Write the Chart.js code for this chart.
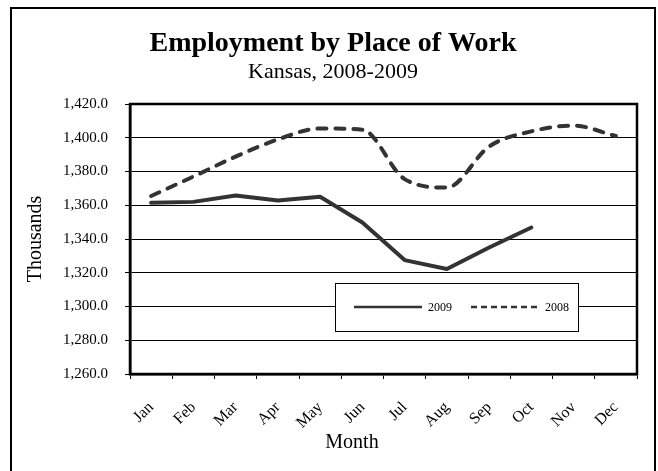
<!DOCTYPE html>
<html>
<head>
<meta charset="utf-8">
<script src="https://cdn.jsdelivr.net/npm/chart.js@4/dist/chart.umd.min.js"></script>
<style>
  html, body { margin: 0; padding: 0; background: #fff; }
  #wrap { position: relative; width: 658px; height: 471px; }
</style>
</head>
<body>
<div id="wrap"><canvas id="c" width="658" height="471"></canvas></div>
<script>
const months = ['Jan','Feb','Mar','Apr','May','Jun','Jul','Aug','Sep','Oct','Nov','Dec'];
const series2009 = [1361.5, 1362.0, 1365.8, 1362.8, 1365.0, 1349.8, 1327.5, 1322.2, 1335.0, 1346.8, null, null];
const series2008 = [1365.5, 1377.0, 1388.8, 1399.0, 1405.5, 1404.8, 1375.5, 1370.5, 1394.8, 1403.8, 1407.2, 1401.0];
const seriesLabels = ['2009', '2008'];
const yMin = 1260, yMax = 1420, yStep = 20;
const titleText = 'Employment by Place of Work';
const subtitleText = 'Kansas, 2008-2009';
const yTitle = 'Thousands';
const xTitle = 'Month';

const SERIF = "'Liberation Serif', 'Times New Roman', serif";
const LINE = '#333333';

const frame = {
  id: 'frame',
  beforeDraw(chart) {
    const ctx = chart.ctx;
    ctx.save();
    ctx.fillStyle = '#fff';
    ctx.fillRect(0, 0, chart.width, chart.height);
    ctx.strokeStyle = '#000';
    ctx.lineWidth = 2;
    ctx.strokeRect(11, 8, 644, 480);
    ctx.restore();
  },
  beforeDatasetsDraw(chart) {
    const a = chart.chartArea, ctx = chart.ctx;
    ctx.save();
    ctx.strokeStyle = '#000';
    ctx.lineWidth = 2.5;
    ctx.strokeRect(a.left, a.top, a.right - a.left, a.bottom - a.top);
    ctx.restore();
  },
  afterDraw(chart) {
    const a = chart.chartArea, ctx = chart.ctx;
    ctx.save();
    ctx.fillStyle = '#000';
    ctx.font = '20px ' + SERIF;
    ctx.textAlign = 'center';
    ctx.textBaseline = 'alphabetic';
    ctx.fillText(xTitle, a.left + 222, a.bottom + 74);
    ctx.restore();
  }
};

const boxLegend = {
  id: 'boxLegend',
  afterDatasetsDraw(chart) {
    const a = chart.chartArea, ctx = chart.ctx;
    const yS = chart.scales.y;
    const x0 = a.left + 205, x1 = a.left + 448;
    const yc = yS.getPixelForValue(1300) + 0.5;
    const y0 = yc - 24, y1 = yc + 24;
    ctx.save();
    ctx.fillStyle = '#fff';
    ctx.fillRect(x0, y0, x1 - x0, y1 - y0);
    ctx.strokeStyle = '#000';
    ctx.lineWidth = 1;
    ctx.strokeRect(x0 + 0.5, y0 + 0.5, x1 - x0, y1 - y0);
    ctx.font = '12px ' + SERIF;
    ctx.fillStyle = '#000';
    ctx.textBaseline = 'middle';
    const items = chart.data.datasets;
    const starts = [x0 + 19, x0 + 136];
    items.forEach((ds, i) => {
      const sx = starts[i];
      ctx.beginPath();
      ctx.strokeStyle = LINE;
      ctx.lineWidth = 2.5;
      ctx.setLineDash(i === 1 ? [6, 4] : []);
      ctx.moveTo(sx, yc);
      ctx.lineTo(sx + 68, yc);
      ctx.stroke();
      ctx.setLineDash([]);
      ctx.fillText(ds.label, sx + 74, yc + 1);
    });
    ctx.restore();
  }
};

new Chart(document.getElementById('c'), {
  type: 'line',
  data: {
    labels: months,
    datasets: [
      {
        label: seriesLabels[0],
        data: series2009,
        borderColor: LINE,
        borderWidth: 4,
        pointRadius: 0,
        tension: 0,
        spanGaps: false,
        borderJoinStyle: 'round',
        borderCapStyle: 'round'
      },
      {
        label: seriesLabels[1],
        data: series2008,
        borderColor: LINE,
        borderWidth: 4,
        pointRadius: 0,
        cubicInterpolationMode: 'monotone',
        borderDash: [9, 9],
        borderCapStyle: 'round',
        borderJoinStyle: 'round'
      }
    ]
  },
  options: {
    responsive: false,
    animation: false,
    devicePixelRatio: 1,
    layout: { padding: { left: 29, right: 21, top: 0, bottom: 0 } },
    plugins: {
      legend: { display: false },
      tooltip: { enabled: false },
      title: {
        display: true,
        text: titleText,
        color: '#000',
        font: { family: SERIF, size: 28, weight: 'bold' },
        padding: { top: 27, bottom: 0 }
      },
      subtitle: {
        display: true,
        text: subtitleText,
        color: '#000',
        font: { family: SERIF, size: 22, weight: 'normal' },
        padding: { top: -2, bottom: 19 }
      }
    },
    scales: {
      x: {
        offset: true,
        grid: { display: true, drawOnChartArea: false, drawTicks: true, tickLength: 5, color: '#000', lineWidth: 1, offset: true },
        border: { display: true, color: '#000', width: 2.5 },
        ticks: { color: '#000', font: { family: SERIF, size: 16 }, minRotation: 45, maxRotation: 45, padding: 19, autoSkip: false },
        title: { display: false },
        afterFit(scale) { scale.height = 97; }
      },
      y: {
        min: yMin,
        max: yMax,
        grid: { color: '#000', lineWidth: 1, drawTicks: true, tickLength: 5 },
        border: { display: true, color: '#000', width: 2.5 },
        ticks: {
          stepSize: yStep,
          color: '#000',
          padding: 17,
          font: { family: SERIF, size: 15 },
          callback: (v) => Number(v).toLocaleString('en-US', { minimumFractionDigits: 1, maximumFractionDigits: 1 })
        },
        title: { display: true, text: yTitle, color: '#000', font: { family: SERIF, size: 20 }, padding: { top: -5, bottom: 0 } },
        afterFit(scale) { scale.width = 101; }
      }
    }
  },
  plugins: [frame, boxLegend]
});
</script>
</body>
</html>
